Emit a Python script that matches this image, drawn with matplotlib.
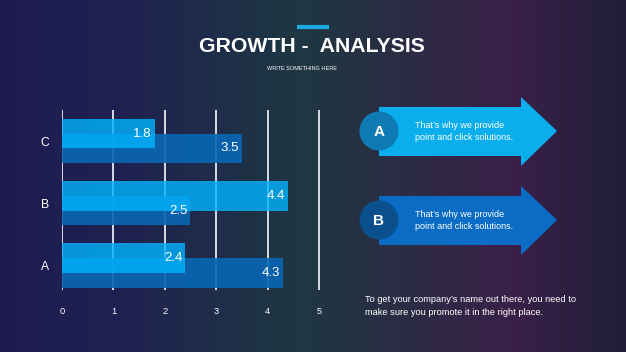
import numpy as np
import matplotlib.pyplot as plt
from matplotlib.colors import LinearSegmentedColormap
from matplotlib.patches import Polygon, Circle

plt.rcParams['font.family'] = ['Liberation Sans', 'DejaVu Sans']

# Datos
categories = ['A', 'B', 'C']
serie_1 = [2.4, 4.4, 1.8]   # barra clara (arriba)
serie_2 = [4.3, 2.5, 3.5]   # barra oscura (abajo)
x_ticks = [0, 1, 2, 3, 4, 5]

title = 'GROWTH -  ANALYSIS'
subtitle = 'WRITE SOMETHING HERE'
box_letters = ['A', 'B']
box_text = "That\u2019s why we provide\npoint and click solutions."
footer = "To get your company\u2019s name out there, you need to\nmake sure you promote it in the right place."

W, H = 626, 352
fig = plt.figure(figsize=(W / 100, H / 100), dpi=100)

# Fondo degradado
bg = fig.add_axes([0, 0, 1, 1])
cmap = LinearSegmentedColormap.from_list('bg', [
    (0.0, '#1e1b52'), (0.2, '#1f2250'), (0.48, '#1e3842'),
    (0.82, '#3a2048'), (1.0, '#201e3a')])
bg.imshow(np.linspace(0, 1, 256)[None, :], cmap=cmap, aspect='auto',
          extent=[0, W, H, 0])
bg.set_xlim(0, W)
bg.set_ylim(H, 0)
bg.axis('off')

# Titulo
bg.plot([297, 329], [27, 27], color='#1ea8e2', lw=3, solid_capstyle='butt')
bg.text(312, 46, title, color='white', fontsize=15.3, fontweight='bold',
        ha='center', va='center')
bg.text(302, 69, subtitle, color='white', fontsize=4, ha='center', va='center')

# Flechas
arrow_cols = ['#0aaeec', '#0a6cc4']
circle_cols = ['#0f7bb5', '#0b4f8c']
centers = [131, 220]
for letter, cy, ac, cc in zip(box_letters, centers, arrow_cols, circle_cols):
    pts = [(379, cy - 24), (521, cy - 24), (521, cy - 34), (557, cy),
           (521, cy + 35), (521, cy + 25), (379, cy + 25)]
    bg.add_patch(Polygon(pts, closed=True, color=ac, lw=0))
    bg.add_patch(Circle((379, cy), 19.5, color=cc, lw=0))
    bg.text(379, cy + 1, letter, color='white', fontsize=11, fontweight='bold',
            ha='center', va='center')
    bg.text(415, cy + 0.5, box_text, color='white', fontsize=6.5, ha='left',
            va='center', linespacing=1.45)

bg.text(365, 306, footer, color='white', fontsize=6.7, ha='left',
        va='center', linespacing=1.55)

# Grafico de barras
ax = fig.add_axes([62 / W, 62 / H, 258 / W, 180 / H])
ax.set_facecolor('none')
y = np.arange(len(categories))
h = 0.48
off = 0.12
for xt in x_ticks:
    ax.axvline(xt, color='#d8dbe6', lw=1.4, zorder=1)
b2 = ax.barh(y - off, serie_2, height=h, color='#0a66b2', alpha=0.92, zorder=2)
b1 = ax.barh(y + off, serie_1, height=h, color='#00b4ff', alpha=0.8, zorder=3)
for bars, vals in [(b1, serie_1), (b2, serie_2)]:
    for bar, v in zip(bars, vals):
        ax.text(v - 0.06, bar.get_y() + bar.get_height() / 2, f'{v}',
                color='white', fontsize=9.5, ha='right', va='center', zorder=4)

ax.set_xlim(0, 5.02)
ax.set_ylim(-0.4, 2.5)
ax.set_xticks(x_ticks)
ax.set_yticks(y)
ax.set_yticklabels(categories)
ax.tick_params(axis='x', colors='white', labelsize=6.7, length=0, pad=12)
ax.tick_params(axis='y', colors='white', labelsize=8.7, length=0, pad=9)
for s in ax.spines.values():
    s.set_visible(False)

fig.savefig('out.png', dpi=100)
